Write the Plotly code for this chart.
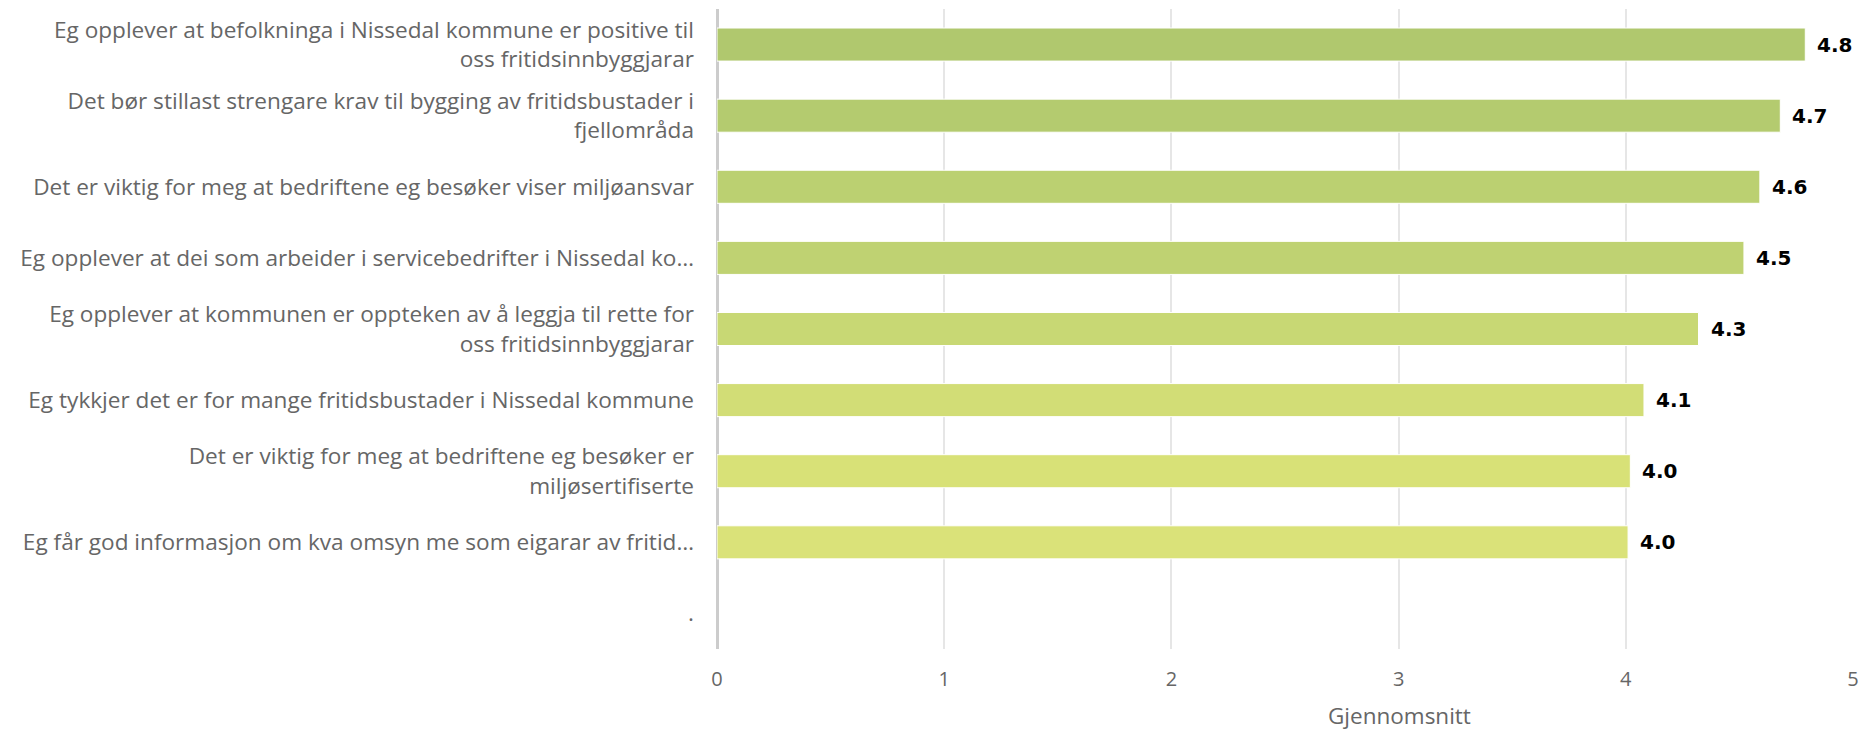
import plotly.graph_objects as go

# survey statements (top to bottom), the last one is an empty category
statements = [
    "Eg opplever at befolkninga i Nissedal kommune er positive til<br>oss fritidsinnbyggjarar",
    "Det bør stillast strengare krav til bygging av fritidsbustader i<br>fjellområda",
    "Det er viktig for meg at bedriftene eg besøker viser miljøansvar",
    "Eg opplever at dei som arbeider i servicebedrifter i Nissedal ko…",
    "Eg opplever at kommunen er oppteken av å leggja til rette for<br>oss fritidsinnbyggjarar",
    "Eg tykkjer det er for mange fritidsbustader i Nissedal kommune",
    "Det er viktig for meg at bedriftene eg besøker er<br>miljøsertifiserte",
    "Eg får god informasjon om kva omsyn me som eigarar av fritid…",
    ".",
]
averages = [4.79, 4.68, 4.59, 4.52, 4.32, 4.08, 4.02, 4.01, None]
bar_colors = ["#b0c86e", "#b4cb6f", "#bbd071", "#bfd272",
              "#c8d874", "#d2dd76", "#d8e177", "#dae279", "#dae279"]

W, H = 1862, 730
ML, MR, MT, MB = 717, 9, 9, 81

fig = go.Figure(go.Bar(
    x=averages, y=statements, orientation="h",
    marker=dict(color=bar_colors, line=dict(color="#ffffff", width=1)),
    hoverinfo="skip",
))

# data labels next to the bars
for s, v in zip(statements, averages):
    if v is None:
        continue
    fig.add_annotation(x=v, y=s, xref="x", yref="y", text="<b>%.1f</b>" % v,
                       showarrow=False, xanchor="left", xshift=10,
                       font=dict(family="DejaVu Sans", size=20, color="#000000"))

# axis title, placed off-centre like the original (pixel y converted to paper)
fig.add_annotation(x=0.601, y=(H - MB - 715) / (H - MB - MT), xref="paper", yref="paper",
                   yanchor="middle", text="Gjennomsnitt", showarrow=False,
                   font=dict(family="Open Sans", size=22.5, color="#666666"))

fig.update_layout(
    width=W, height=H,
    margin=dict(l=ML, r=MR, t=MT, b=MB, pad=0),
    paper_bgcolor="#ffffff", plot_bgcolor="#ffffff",
    bargap=0.535, showlegend=False,
    font=dict(family="Open Sans", size=22.6, color="#666666"),
)
fig.update_xaxes(range=[0, 5], dtick=1, showgrid=True, gridcolor="#e6e6e6", gridwidth=2,
                 zeroline=True, zerolinecolor="#cccccc", zerolinewidth=3,
                 showline=False, ticklabelstandoff=16, fixedrange=True, automargin=False,
                 tickfont=dict(size=20))
fig.update_yaxes(categoryorder="array", categoryarray=statements, autorange="reversed",
                 showgrid=False, ticklabelstandoff=22, fixedrange=True, automargin=False)

# drop the default body margin so the figure fills the window exactly
fig.write_html("out.html", config={"displayModeBar": False},
               post_script="document.body.style.margin='0';document.body.style.overflow='hidden';")
